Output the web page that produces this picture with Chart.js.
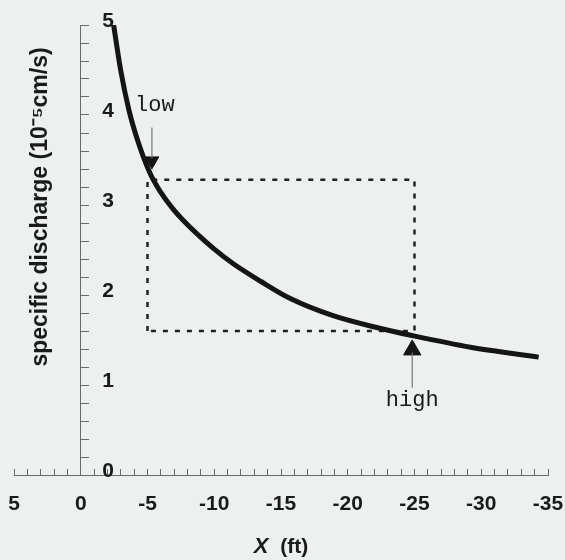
<!DOCTYPE html>
<html>
<head>
<meta charset="utf-8">
<script src="https://cdn.jsdelivr.net/npm/chart.js@4.4.0/dist/chart.umd.min.js"></script>
<style>
  body { margin: 0; background: #edf0ee; }
  #wrap { position: relative; width: 565px; height: 560px; background: #edf0ee; }
</style>
</head>
<body>
<div id="wrap"><canvas id="chart"></canvas></div>
<script>
// curve (x in ft, q in 10^-5 cm/s)
const curveX = [-2.4, -3.0, -3.6, -4.3, -5.2, -6.0, -7.0, -8.0, -9.0, -10.0, -11.4, -13.5, -15.7, -18.9, -22.4, -24.8, -29.2, -34.3];
const curveY = [5.06, 4.49, 4.06, 3.70, 3.35, 3.14, 2.94, 2.78, 2.64, 2.51, 2.35, 2.15, 1.96, 1.77, 1.63, 1.55, 1.42, 1.31];

// dotted box between the "low" and "high" positions
const boxX = [-5, -5, -25, -25, -5];
const boxY = [1.6, 3.28, 3.28, 1.6, 1.6];

// arrows: shaft ends and head centre
const lowShaftX = [-5.33, -5.33];
const lowShaftY = [3.86, 3.52];
const lowHead = [-5.33, 3.49];
const highShaftX = [-24.83, -24.83];
const highShaftY = [0.97, 1.36];
const highHead = [-24.83, 1.39];

// annotation labels [text, x, y]
const notes = [['low', -5.55, 4.11], ['high', -24.83, 0.83]];

// axes
const xRange = [-35, 5];
const yRange = [0, 5];
const yLabelAt = -2.48;

const pts = (xs, ys) => xs.map((v, i) => ({ x: v, y: ys[i] }));

const textPlugin = {
  id: 'texts',
  afterDraw(chart) {
    const { ctx, scales: { x, y } } = chart;
    ctx.save();
    ctx.fillStyle = '#1a1a1a';
    ctx.textAlign = 'center';
    ctx.textBaseline = 'middle';
    ctx.font = '22px "Courier New", "Liberation Mono", monospace';
    notes.forEach(([t, nx, ny]) => ctx.fillText(t, x.getPixelForValue(nx), y.getPixelForValue(ny)));

    // y title
    ctx.font = 'bold 23px "Liberation Sans", Arial, sans-serif';
    ctx.translate(41, 207);
    ctx.rotate(-Math.PI / 2);
    ctx.fillText('specific discharge (10\u207B\u2075cm/s)', 0, 0);
    ctx.restore();

    // x title, italic X
    ctx.save();
    ctx.fillStyle = '#1a1a1a';
    ctx.textBaseline = 'middle';
    ctx.textAlign = 'left';
    const a = 'X', b = '  (ft)';
    ctx.font = 'italic bold 22px "Liberation Sans", Arial, sans-serif';
    const wa = ctx.measureText(a).width;
    ctx.font = 'bold 21px "Liberation Sans", Arial, sans-serif';
    const wb = ctx.measureText(b).width;
    const sx = 281 - (wa + wb) / 2;
    ctx.font = 'italic bold 22px "Liberation Sans", Arial, sans-serif';
    ctx.fillText(a, sx, 547);
    ctx.font = 'bold 21px "Liberation Sans", Arial, sans-serif';
    ctx.fillText(b, sx + wa, 547);
    ctx.restore();
  }
};

const zeroWidth = s => { s.width = 0; };
const tickFont = { family: '"Liberation Sans", Arial, sans-serif', size: 21, weight: 'bold' };

new Chart(document.getElementById('chart'), {
  type: 'scatter',
  data: {
    datasets: [
      {
        data: pts(curveX, curveY),
        showLine: true,
        borderColor: '#151515',
        borderWidth: 5,
        pointRadius: 0,
        cubicInterpolationMode: 'monotone'
      },
      {
        data: pts(boxX, boxY),
        showLine: true,
        borderColor: '#222',
        borderWidth: 2.5,
        borderDash: [5, 7],
        pointRadius: 0
      },
      {
        data: pts(lowShaftX, lowShaftY),
        showLine: true, borderColor: '#777', borderWidth: 1.2, pointRadius: 0
      },
      {
        data: pts(highShaftX, highShaftY),
        showLine: true, borderColor: '#777', borderWidth: 1.2, pointRadius: 0
      },
      {
        data: [{ x: lowHead[0], y: lowHead[1] }],
        pointStyle: 'triangle', rotation: 180, pointRadius: 8,
        backgroundColor: '#151515', borderColor: '#151515', borderWidth: 1
      },
      {
        data: [{ x: highHead[0], y: highHead[1] }],
        pointStyle: 'triangle', rotation: 0, pointRadius: 10,
        backgroundColor: '#151515', borderColor: '#151515', borderWidth: 1
      }
    ]
  },
  options: {
    responsive: true,
    maintainAspectRatio: false,
    animation: false,
    layout: { padding: { left: 14, right: 17, top: 25, bottom: 0 } },
    plugins: { legend: { display: false }, tooltip: { enabled: false } },
    scales: {
      x: {
        type: 'linear',
        position: 'bottom',
        reverse: true,
        min: xRange[0],
        max: xRange[1],
        // keep tick labels from eating into the plot width
        afterFit: s => { s.height = 85; s.paddingLeft = 0; s.paddingRight = 0; },
        border: { color: '#6a6a6a', width: 1 },
        grid: { drawOnChartArea: false, drawTicks: true, tickLength: -6, tickColor: '#6a6a6a' },
        ticks: {
          stepSize: 1,
          autoSkip: false,
          maxRotation: 0,
          padding: 23,
          color: '#1a1a1a',
          font: tickFont,
          callback: v => (v % 5 === 0 ? String(v) : '')
        }
      },
      y: {
        type: 'linear',
        position: { x: 0 },
        min: yRange[0],
        max: yRange[1],
        afterFit: zeroWidth,
        border: { color: '#6a6a6a', width: 1 },
        grid: { drawOnChartArea: false, drawTicks: true, tickLength: -9, tickColor: '#6a6a6a' },
        ticks: { display: false, stepSize: 0.2 }
      },
      yLab: {
        type: 'linear',
        position: { x: yLabelAt },
        min: yRange[0],
        max: yRange[1],
        afterFit: zeroWidth,
        border: { display: false },
        grid: { display: false },
        ticks: {
          stepSize: 1,
          labelOffset: -4,
          color: '#1a1a1a',
          font: tickFont
        }
      }
    }
  },
  plugins: [textPlugin]
});
</script>
</body>
</html>
